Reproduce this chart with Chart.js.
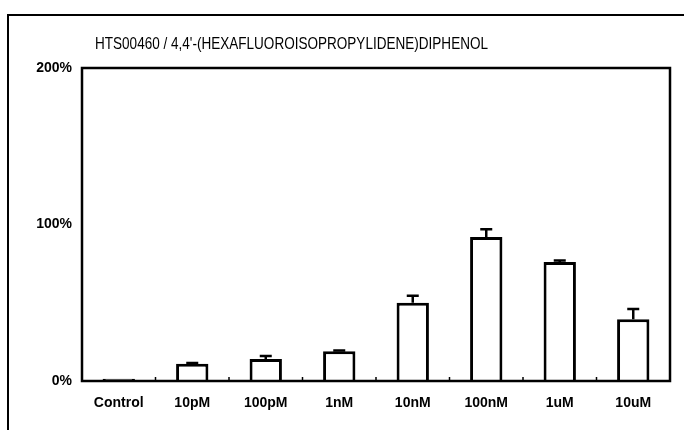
<!DOCTYPE html>
<html>
<head>
<meta charset="utf-8">
<script src="https://cdn.jsdelivr.net/npm/chart.js@4"></script>
<style>
  html, body { margin: 0; padding: 0; background: #fff; }
  #wrap { width: 684px; height: 430px; }
</style>
</head>
<body>
<div id="wrap"><canvas id="grafico"></canvas></div>
<script>
const categorias = ["Control", "10pM", "100pM", "1nM", "10nM", "100nM", "1uM", "10uM"];
const medias = [1.5, 11, 14, 19, 50, 92, 76, 39.5];
const errores = [0, 0.5, 2, 0.5, 4.5, 5, 1, 6.5];
const ticksY = [0, 100, 200];
const titulo = "HTS00460 / 4,4'-(HEXAFLUOROISOPROPYLIDENE)DIPHENOL";

const fuente = "'Liberation Sans', Arial, sans-serif";

// marco, caja del área, barras de error y título
const extras = {
    id: "extras",
    beforeDraw(chart) {
        const ctx = chart.ctx;
        ctx.save();
        ctx.strokeStyle = "#000";
        ctx.lineWidth = 2;
        ctx.beginPath();
        ctx.moveTo(8, 430);
        ctx.lineTo(8, 15);
        ctx.lineTo(684, 15);
        ctx.stroke();
        ctx.restore();
    },
    afterDatasetsDraw(chart) {
        const ctx = chart.ctx;
        const x = chart.scales.x;
        const y = chart.scales.y;
        const a = chart.chartArea;
        ctx.save();
        ctx.strokeStyle = "#000";
        ctx.lineWidth = 2.5;
        medias.forEach((m, i) => {
            if (!errores[i]) return;
            const cx = x.getPixelForValue(i);
            const y0 = y.getPixelForValue(m);
            const y1 = y.getPixelForValue(m + errores[i]);
            ctx.beginPath();
            ctx.moveTo(cx, y0);
            ctx.lineTo(cx, y1);
            ctx.moveTo(cx - 6, y1);
            ctx.lineTo(cx + 6, y1);
            ctx.stroke();
        });
        // ticks entre categorias
        ctx.lineWidth = 1.5;
        const paso = (a.right - a.left) / categorias.length;
        for (let i = 1; i < categorias.length; i++) {
            const px = a.left + paso * i;
            ctx.beginPath();
            ctx.moveTo(px, a.bottom);
            ctx.lineTo(px, a.bottom - 4);
            ctx.stroke();
        }
        ctx.lineWidth = 2.5;
        ctx.strokeRect(a.left, a.top, a.right - a.left, a.bottom - a.top);
        // titulo
        ctx.fillStyle = "#000";
        ctx.font = "17px " + fuente;
        ctx.textBaseline = "middle";
        const w = ctx.measureText(titulo).width;
        ctx.translate(95, 44);
        ctx.scale(393 / w, 1);
        ctx.fillText(titulo, 0, 0);
        ctx.restore();
    }
};

new Chart(document.getElementById("grafico").getContext("2d"), {
    type: "bar",
    data: {
        labels: categorias,
        datasets: [{
            data: medias,
            backgroundColor: "#fff",
            borderColor: "#000",
            borderWidth: 3,
            barPercentage: 0.44,
            categoryPercentage: 1
        }]
    },
    options: {
        responsive: true,
        maintainAspectRatio: false,
        animation: false,
        layout: { padding: { left: 0, top: 68, right: 14, bottom: 0 } },
        plugins: { legend: { display: false }, tooltip: { enabled: false } },
        scales: {
            x: {
                grid: { display: false },
                border: { display: false },
                ticks: {
                    color: "#000",
                    padding: 6,
                    font: { family: fuente, size: 14, weight: "bold" }
                },
                afterFit(s) { s.height = 49; }
            },
            y: {
                min: 0,
                max: 200,
                grid: { display: false },
                border: { display: false },
                afterBuildTicks(s) { s.ticks = ticksY.map(v => ({ value: v })); },
                ticks: {
                    color: "#000",
                    padding: 2,
                    font: { family: fuente, size: 14, weight: "bold" },
                    callback: v => v + "%"
                },
                afterFit(s) { s.width = 82; }
            }
        }
    },
    plugins: [extras]
});
</script>
</body>
</html>
